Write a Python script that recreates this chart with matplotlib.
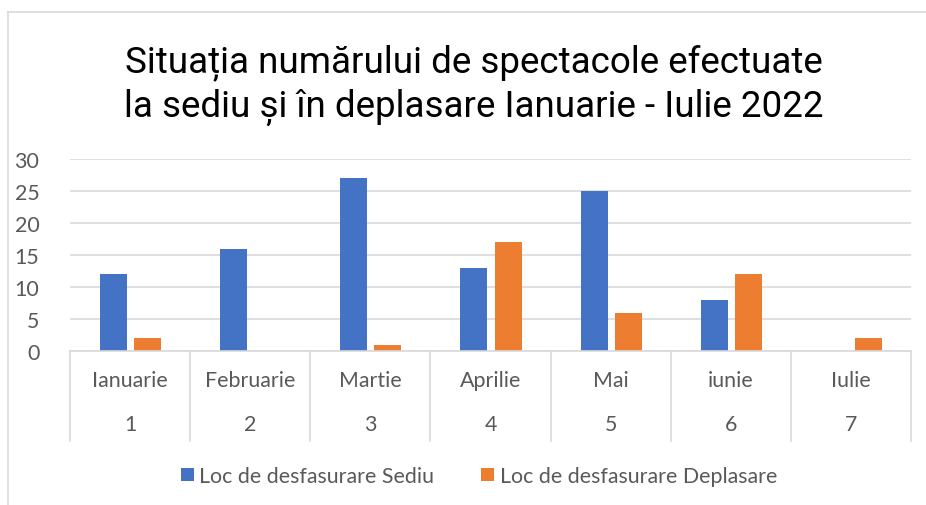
import matplotlib
matplotlib.use('Agg')
import matplotlib.pyplot as plt
import matplotlib.transforms as mtransforms
from matplotlib.lines import Line2D
import numpy as np

# data
months = ['Ianuarie', 'Februarie', 'Martie', 'Aprilie', 'Mai', 'iunie', 'Iulie']
month_nums = ['1', '2', '3', '4', '5', '6', '7']
sediu = [12, 16, 27, 13, 25, 8, 0]
deplasare = [2, 0, 1, 17, 6, 12, 2]
series_names = ['Loc de desfasurare Sediu', 'Loc de desfasurare Deplasare']
title = 'Situația numărului de spectacole efectuate\nla sediu și în deplasare Ianuarie - Iulie 2022'

blue = '#4472C4'
orange = '#ED7D31'
grid_c = '#D9D9D9'
txt_c = '#595959'
label_font = ['Lato', 'DejaVu Sans']
fs = 15.4

fig = plt.figure(figsize=(9.26, 5.06), dpi=100)
ax = fig.add_axes([70/926, 1-352/506, 841/926, 192/506])

x = np.arange(len(months))
w = 0.225
ax.bar(x - 0.1375, sediu, w, color=blue, label=series_names[0])
ax.bar(x + 0.1458, deplasare, w, color=orange, label=series_names[1])

ax.set_xlim(-0.5, len(months) - 0.5)
ax.set_ylim(0, 30)
ax.set_yticks(range(0, 31, 5))
ax.yaxis.grid(True, color=grid_c, linewidth=1.2)
ax.set_axisbelow(True)
for s in ['top', 'right', 'left']:
    ax.spines[s].set_visible(False)
ax.spines['bottom'].set_color(grid_c)
ax.spines['bottom'].set_linewidth(1.2)
ax.tick_params(axis='y', length=0, pad=22, labelsize=fs, labelcolor=txt_c)
for t in ax.get_yticklabels():
    t.set_family(label_font)
ax.set_xticks([])

# two-level category axis
trans = mtransforms.blended_transform_factory(ax.transData, ax.transAxes)
for k in range(len(months) + 1):
    ax.add_line(Line2D([k - 0.5, k - 0.5], [0, -0.47], transform=trans,
                       color=grid_c, linewidth=1.2, clip_on=False))
for i in range(len(months)):
    ax.text(i, -0.151, months[i], transform=trans, ha='center', va='center',
            fontsize=fs, color=txt_c, family=label_font)
    ax.text(i, -0.38, month_nums[i], transform=trans, ha='center', va='center',
            fontsize=fs, color=txt_c, family=label_font)

fig.text(474/926, 1-85/506, title, ha='center', va='center', fontsize=26.5,
         family=['Roboto', 'DejaVu Sans'], color='#000000', linespacing=1.27)

fig.legend(loc='center', bbox_to_anchor=(479/926, 1-477/506), ncol=2, frameon=False,
           prop={'family': label_font, 'size': fs}, labelcolor=txt_c,
           handlelength=0.6, handleheight=0.6, handletextpad=0.25, columnspacing=2.2)

# chart border (left and top visible)
fig.add_artist(Line2D([8/926, 8/926], [0, 1-13/506], transform=fig.transFigure,
                      color=grid_c, linewidth=1.2))
fig.add_artist(Line2D([8/926, 1], [1-13/506, 1-13/506], transform=fig.transFigure,
                      color=grid_c, linewidth=1.2))

fig.savefig('out.png', dpi=100)
